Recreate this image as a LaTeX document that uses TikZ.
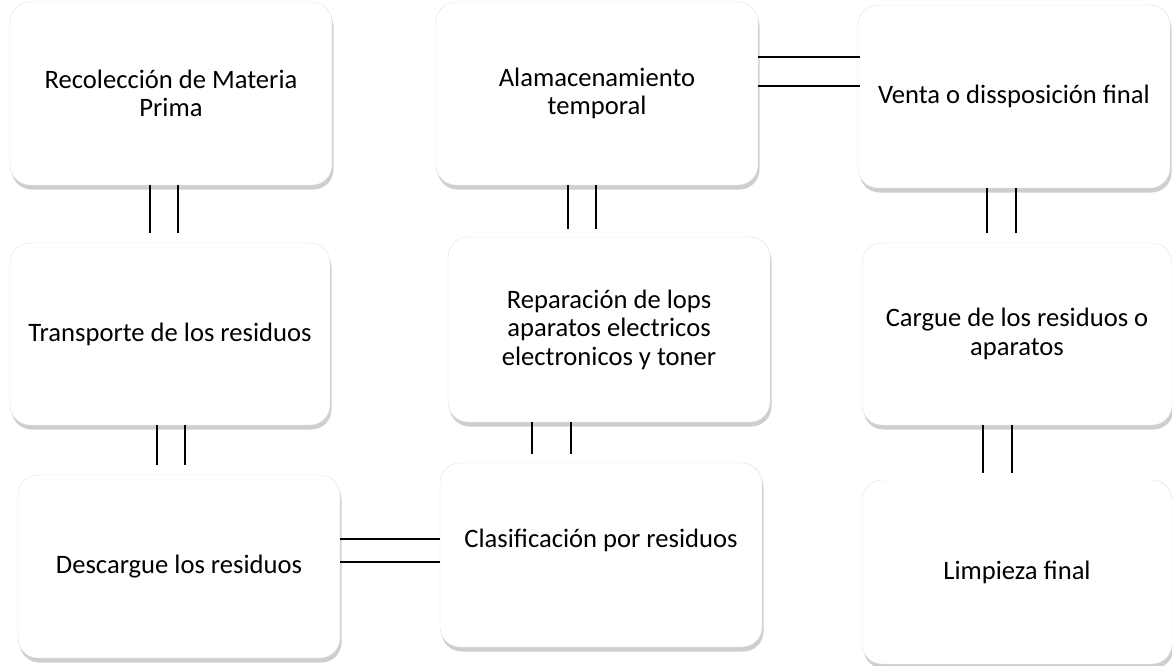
\documentclass[tikz,border=0pt]{standalone}
\usepackage{fontspec}
\setmainfont{Carlito}
\usetikzlibrary{shadows}

\begin{document}
\begin{tikzpicture}[x=1pt,y=-1pt]
\tikzset{caja/.style={fill=white,draw=black!12,rounded corners=20pt,
  drop shadow={shadow xshift=1.5pt,shadow yshift=-4.5pt,fill=black!38},
  align=center,font=\fontsize{26.6}{28.5}\selectfont,inner sep=4pt},
enlace/.style={line width=1.3pt,black}}
\useasboundingbox (0,0) rectangle (1172,666);

\node[caja,minimum width=322pt,minimum height=183pt] (rec) at (171,93.5){Recolección de Materia\\Prima};
\node[caja,minimum width=322pt,minimum height=183pt] (alm) at (597,93.5){Alamacenamiento\\temporal};
\node[caja,minimum width=312pt,minimum height=183pt] (ven) at (1014,96.5){Venta o dissposición final};

\node[caja,minimum width=320pt,minimum height=182pt] (tra) at (170,334){Transporte de los residuos};
\node[caja,minimum width=322pt,minimum height=185pt] (rep) at (609,329.5){Reparación de lops\\aparatos electricos\\electronicos y toner};
\node[caja,minimum width=310pt,minimum height=182pt] (car) at (1017,334){Cargue de los residuos o\\aparatos};

\node[caja,minimum width=322pt,minimum height=183pt] (des) at (179,566.5){Descargue los residuos};
\node[caja,minimum width=322pt,minimum height=184pt,text depth=34pt] (cla) at (601,555){Clasificación por residuos};
\node[caja,minimum width=310pt,minimum height=184pt] (lim) at (1017,572){Limpieza final};

% extremos libres de los conectores
\coordinate (rt1) at (150,233);  \coordinate (rt2) at (178,233);
\coordinate (ar1) at (568,229);  \coordinate (ar2) at (596,229);
\coordinate (vc1) at (987,233);  \coordinate (vc2) at (1016,233);
\coordinate (td1) at (157,465);  \coordinate (td2) at (185,465);
\coordinate (rc1) at (532,454);  \coordinate (rc2) at (571,454);
\coordinate (cl1) at (983,473);  \coordinate (cl2) at (1012,473);
\coordinate (dc1) at (440,539);  \coordinate (dc2) at (440,562);
\coordinate (av1) at (860,57);   \coordinate (av2) at (860,86);

\draw[enlace] (rec.south -| rt1) -- (rt1);
\draw[enlace] (rec.south -| rt2) -- (rt2);
\draw[enlace] (alm.south -| ar1) -- (ar1);
\draw[enlace] (alm.south -| ar2) -- (ar2);
\draw[enlace] (ven.south -| vc1) -- (vc1);
\draw[enlace] (ven.south -| vc2) -- (vc2);
\draw[enlace] (tra.south -| td1) -- (td1);
\draw[enlace] (tra.south -| td2) -- (td2);
\draw[enlace] (rep.south -| rc1) -- (rc1);
\draw[enlace] (rep.south -| rc2) -- (rc2);
\draw[enlace] (car.south -| cl1) -- (cl1);
\draw[enlace] (car.south -| cl2) -- (cl2);
\draw[enlace] (des.east |- dc1) -- (dc1);
\draw[enlace] (des.east |- dc2) -- (dc2);
\draw[enlace] (alm.east |- av1) -- (av1);
\draw[enlace] (alm.east |- av2) -- (av2);

\end{tikzpicture}
\end{document}
